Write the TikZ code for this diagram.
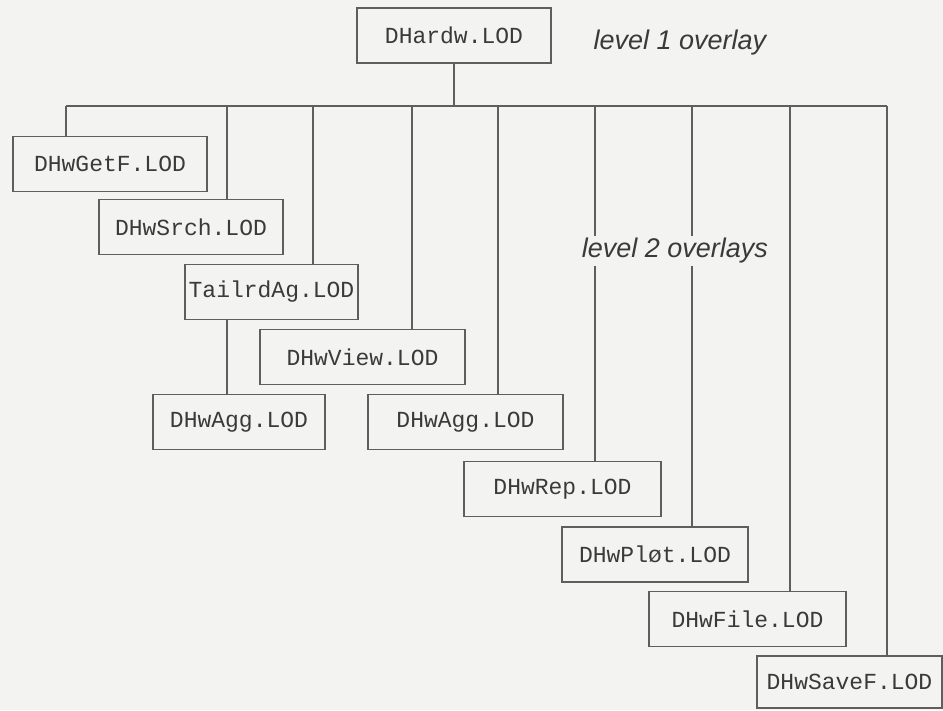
\documentclass[tikz,border=0pt]{standalone}
\usepackage{fontspec}
\setmainfont{Liberation Sans}
\setmonofont{Liberation Mono}
\usepackage{tikz}
\usetikzlibrary{positioning, calc}
\definecolor{papel}{HTML}{F3F3F1}
\definecolor{tinta}{HTML}{3A3A3A}
\definecolor{linea}{HTML}{5E5E5E}

\begin{document}
\begin{tikzpicture}[x=1pt, y=-1pt,
        lod/.style={draw=linea, line width=1.6pt, fill=papel, text=tinta,
            font=\ttfamily\fontsize{23}{26}\selectfont, minimum height=55pt, inner sep=0pt},
        link/.style={draw=linea, line width=1.5pt},
        tag/.style={fill=papel, text=tinta, inner sep=2pt,
            font=\itshape\fontsize{27}{30}\selectfont}]
        \fill[papel] (0,0) rectangle (943,710);
        \useasboundingbox (0,0) rectangle (943,710);
        % root and level 2 boxes
        \node[lod, minimum width=194pt] (root)  at (454,35.5)  {DHardw.LOD};
        \node[lod, minimum width=194pt] (getf)  at (110,164)   {DHwGetF.LOD};
        \node[lod, minimum width=184pt] (srch)  at (191,227)   {DHwSrch.LOD};
        \node[lod, minimum width=173pt] (tail)  at (271.5,292) {TailrdAg.LOD};
        \node[lod, minimum width=205pt] (view)  at (362.5,357) {DHwView.LOD};
        \node[lod, minimum width=172pt] (agga)  at (239,422)   {DHwAgg.LOD};
        \node[lod, minimum width=195pt] (aggb)  at (465.5,422) {DHwAgg.LOD};
        \node[lod, minimum width=197pt] (rep)   at (562.5,489) {DHwRep.LOD};
        \node[lod, minimum width=186pt] (plot)  at (655,554.5) {DHwPløt.LOD};
        \node[lod, minimum width=197pt] (file)  at (747.5,619) {DHwFile.LOD};
        \node[lod, minimum width=185pt, minimum height=52pt] (savef) at (849.5,682) {DHwSaveF.LOD};
        % bus
        \coordinate (bl) at (66,106);
        \coordinate (br) at (887,106);
        \draw[link] (bl) -- (br);
        \draw[link] (root.south) -- (root.south |- bl);
        \foreach \x/\n [count=\i] in {66/getf, 227/srch, 313/tail, 412/view, 498/aggb,
                595/rep, 692/plot, 790/file, 887/savef}
            {\coordinate (b\i) at (\x,106);
             \draw[link] (b\i) -- (b\i |- \n.north);}
        \draw[link] (tail.south -| b2) -- (b2 |- agga.north);
        % labels
        \node[tag] (lv1) at (680,43)  {level 1 overlay};
        \node[tag] (lv2) at (675,251) {level 2 overlays};
    \end{tikzpicture}
\end{document}
